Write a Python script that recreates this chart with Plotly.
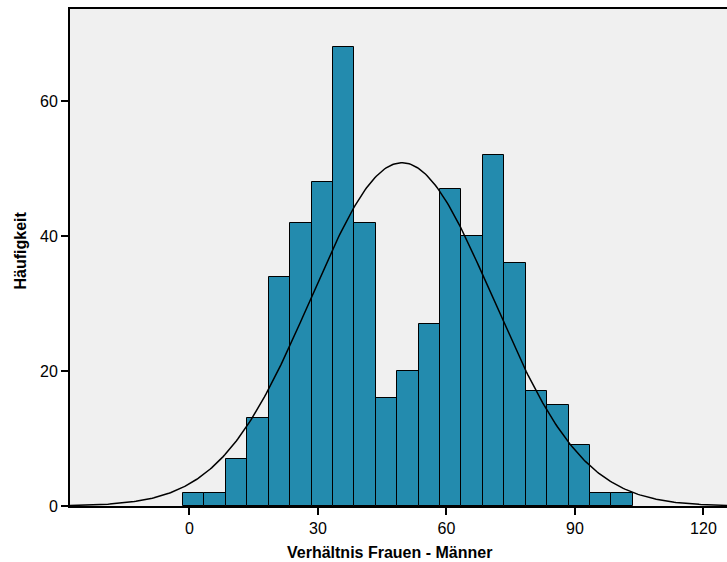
import numpy as np
import plotly.graph_objects as go

# Data
counts = [2, 2, 7, 13, 34, 42, 48, 68, 42, 16, 20, 27, 47, 40, 52, 36, 17, 15, 9, 2, 2]
bin_start = -1.5
bin_width = 5.0
curve_mean = 49.6
curve_sd = 21.2
x_ticks = [0, 30, 60, 90, 120]
y_ticks = [0, 20, 40, 60]
x_title = "Verhältnis Frauen - Männer"
y_title = "Häufigkeit"

x_range = [-27.9, 125.5]
y_range = [0, 73.7]

mids = [bin_start + bin_width * (i + 0.5) for i in range(len(counts))]
n_total = sum(counts)

xc = np.linspace(x_range[0], x_range[1], 400)
yc = n_total * bin_width / (curve_sd * np.sqrt(2 * np.pi)) * np.exp(-0.5 * ((xc - curve_mean) / curve_sd) ** 2)

fig = go.Figure()
fig.add_trace(go.Bar(
    x=mids, y=counts, width=bin_width,
    marker=dict(color="#238BAE", line=dict(color="#000000", width=1)),
    hoverinfo="x+y", showlegend=False,
))
fig.add_trace(go.Scatter(
    x=xc, y=yc, mode="lines", line=dict(color="#000000", width=1.5),
    showlegend=False, hoverinfo="skip",
))

L, R, T, B = 70, 0, 9, 56
W, H = 727, 562
pw, ph = W - L - R, H - T - B

fig.update_layout(
    width=W, height=H,
    margin=dict(l=L, r=R, t=T, b=B),
    paper_bgcolor="#FFFFFF", plot_bgcolor="#F0F0F0",
    font=dict(family="Liberation Sans, Arial, sans-serif", color="#000000", size=16),
    bargap=0,
    annotations=[
        dict(text="<b>" + x_title + "</b>", xref="paper", yref="paper",
             x=(389.5 - L) / pw, y=-(552 - (H - B)) / ph,
             xanchor="center", yanchor="middle", showarrow=False,
             font=dict(size=16)),
        dict(text="<b>" + y_title + "</b>", xref="paper", yref="paper",
             x=(20.5 - L) / pw, y=((H - B) - 251) / ph, textangle=-90,
             xanchor="center", yanchor="middle", showarrow=False,
             font=dict(size=16)),
    ],
)
fig.update_xaxes(
    range=x_range, tickvals=x_ticks, ticktext=[str(v) for v in x_ticks],
    showgrid=False, zeroline=False,
    showline=True, linecolor="#000000", linewidth=2, mirror=True,
    ticks="outside", ticklen=7, tickwidth=1.5, tickcolor="#000000",
    tickfont=dict(size=16),
)
fig.update_yaxes(
    range=y_range, tickvals=y_ticks, ticktext=[str(v) for v in y_ticks],
    showgrid=False, zeroline=False,
    showline=True, linecolor="#000000", linewidth=2,
    ticks="outside", ticklen=7, tickwidth=1.5, tickcolor="#000000",
    tickfont=dict(size=16),
)

fig.write_html("out.html", config={"displayModeBar": False},
               post_script="document.body.style.margin='0';document.body.style.overflow='hidden';")
